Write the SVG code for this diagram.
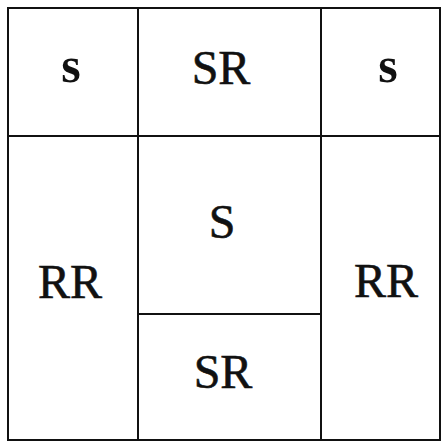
<svg xmlns="http://www.w3.org/2000/svg" width="448" height="442" viewBox="0 0 448 442">
<style>
.cell{fill:#fff;stroke:#111;stroke-width:2}
.t{font-family:'Liberation Serif','Times New Roman',Times,serif;fill:#111;text-anchor:middle}
.lo{font-size:50px;font-weight:bold}
.up{font-size:48px;stroke:#111;stroke-width:0.6}
</style>
<rect width="448" height="442" fill="#fff"/>
<g id="cell-top-left"><rect class="cell" x="8" y="8" width="130" height="128"/><text class="t lo" x="71" y="82">s</text></g>
<g id="cell-top-middle"><rect class="cell" x="138" y="8" width="183" height="128"/><text class="t up" x="221" y="84">SR</text></g>
<g id="cell-top-right"><rect class="cell" x="321" y="8" width="119" height="128"/><text class="t lo" x="388" y="82">s</text></g>
<g id="cell-left"><rect class="cell" x="8" y="136" width="130" height="304"/><text class="t up" x="70" y="298">RR</text></g>
<g id="cell-center"><rect class="cell" x="138" y="136" width="183" height="178"/><text class="t up" x="222" y="238">S</text></g>
<g id="cell-bottom-middle"><rect class="cell" x="138" y="314" width="183" height="126"/><text class="t up" x="223" y="388">SR</text></g>
<g id="cell-right"><rect class="cell" x="321" y="136" width="119" height="304"/><text class="t up" x="386" y="297">RR</text></g>
</svg>
